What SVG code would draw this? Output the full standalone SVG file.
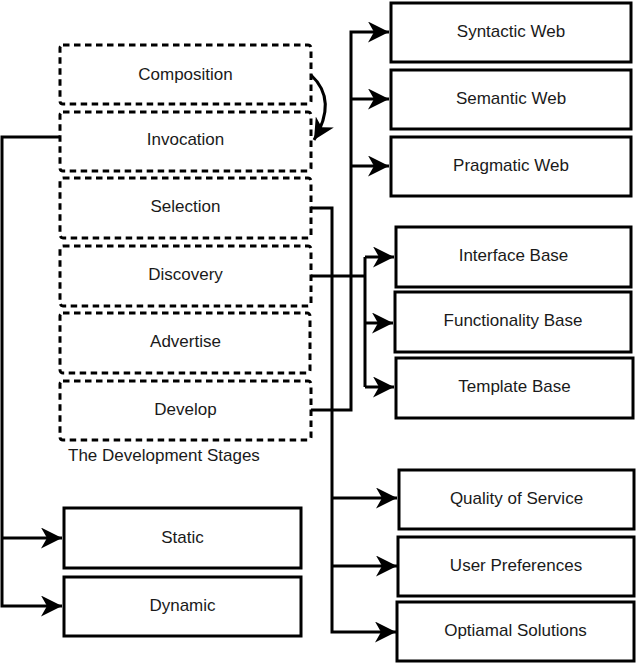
<svg xmlns="http://www.w3.org/2000/svg" width="636" height="663" viewBox="0 0 636 663">
<style>
.dash{fill:none;stroke:#000;stroke-width:3;stroke-dasharray:6.5 4.5}
.box{fill:#fff;stroke:#000;stroke-width:3}
.t{font-family:"Liberation Sans",Arial,sans-serif;font-size:17px;fill:#1a1a1a;text-anchor:middle}
.c{fill:none;stroke:#000;stroke-width:3}
</style>
<defs>
<marker id="ah" markerUnits="userSpaceOnUse" viewBox="0 0 21 21" refX="21" refY="10.5" markerWidth="21" markerHeight="21" orient="auto">
<path d="M0,0 L21,10.5 L0,21 L6,10.5 Z" fill="#000"/>
</marker>
</defs>
<rect width="636" height="663" fill="#fff"/>
<g id="connectors">
<path class="c" d="M60,137 H2 V606 H62" marker-end="url(#ah)"/>
<path class="c" d="M2,538 H62" marker-end="url(#ah)"/>
<path class="c" d="M311,410 H351 V32 H389" marker-end="url(#ah)"/>
<path class="c" d="M351,99 H389" marker-end="url(#ah)"/>
<path class="c" d="M351,166 H389" marker-end="url(#ah)"/>
<path class="c" d="M311,276 H365"/>
<path class="c" d="M365,257 V387"/>
<path class="c" d="M365,257 H394" marker-end="url(#ah)"/>
<path class="c" d="M365,323 H393" marker-end="url(#ah)"/>
<path class="c" d="M365,387 H394" marker-end="url(#ah)"/>
<path class="c" d="M311,208 H332 V632 H396" marker-end="url(#ah)"/>
<path class="c" d="M332,498 H397" marker-end="url(#ah)"/>
<path class="c" d="M332,566 H397" marker-end="url(#ah)"/>
<path class="c" d="M311,75 Q338,100 314,140" marker-end="url(#ah)"/>
</g>
<g id="composition"><rect class="dash" x="60" y="45" width="251" height="59" rx="3"/><text class="t" x="185.5" y="79.5">Composition</text></g>
<g id="invocation"><rect class="dash" x="60" y="112" width="251" height="59" rx="3"/><text class="t" x="185.5" y="145">Invocation</text></g>
<g id="selection"><rect class="dash" x="60" y="178" width="251" height="60" rx="3"/><text class="t" x="185.5" y="212">Selection</text></g>
<g id="discovery"><rect class="dash" x="60" y="246" width="251" height="60" rx="3"/><text class="t" x="185.5" y="280">Discovery</text></g>
<g id="advertise"><rect class="dash" x="60" y="313" width="250" height="60" rx="3"/><text class="t" x="185.5" y="347">Advertise</text></g>
<g id="develop"><rect class="dash" x="60" y="381" width="251" height="59" rx="3"/><text class="t" x="185.5" y="415">Develop</text></g>
<g id="stages-label"><text class="t" x="68" y="461" style="text-anchor:start">The Development Stages</text></g>
<g id="syntactic"><rect class="box" x="391" y="3" width="240" height="59"/><text class="t" x="511" y="37">Syntactic Web</text></g>
<g id="semantic"><rect class="box" x="391" y="70" width="240" height="59"/><text class="t" x="511" y="104">Semantic Web</text></g>
<g id="pragmatic"><rect class="box" x="391" y="137" width="240" height="59"/><text class="t" x="511" y="171">Pragmatic Web</text></g>
<g id="interface"><rect class="box" x="396" y="227" width="235" height="60"/><text class="t" x="513.5" y="261">Interface Base</text></g>
<g id="functionality"><rect class="box" x="395" y="292" width="236" height="60"/><text class="t" x="513" y="326">Functionality Base</text></g>
<g id="template"><rect class="box" x="396" y="358" width="237" height="60"/><text class="t" x="514.5" y="392">Template Base</text></g>
<g id="qos"><rect class="box" x="399" y="470" width="235" height="59"/><text class="t" x="516.5" y="504">Quality of Service</text></g>
<g id="userpref"><rect class="box" x="398" y="537" width="236" height="59"/><text class="t" x="516" y="571">User Preferences</text></g>
<g id="optimal"><rect class="box" x="397" y="602" width="237" height="59"/><text class="t" x="515.5" y="636">Optiamal Solutions</text></g>
<g id="static"><rect class="box" x="64" y="508" width="237" height="60"/><text class="t" x="182.5" y="543">Static</text></g>
<g id="dynamic"><rect class="box" x="64" y="577" width="237" height="59"/><text class="t" x="182.5" y="611">Dynamic</text></g>
</svg>
